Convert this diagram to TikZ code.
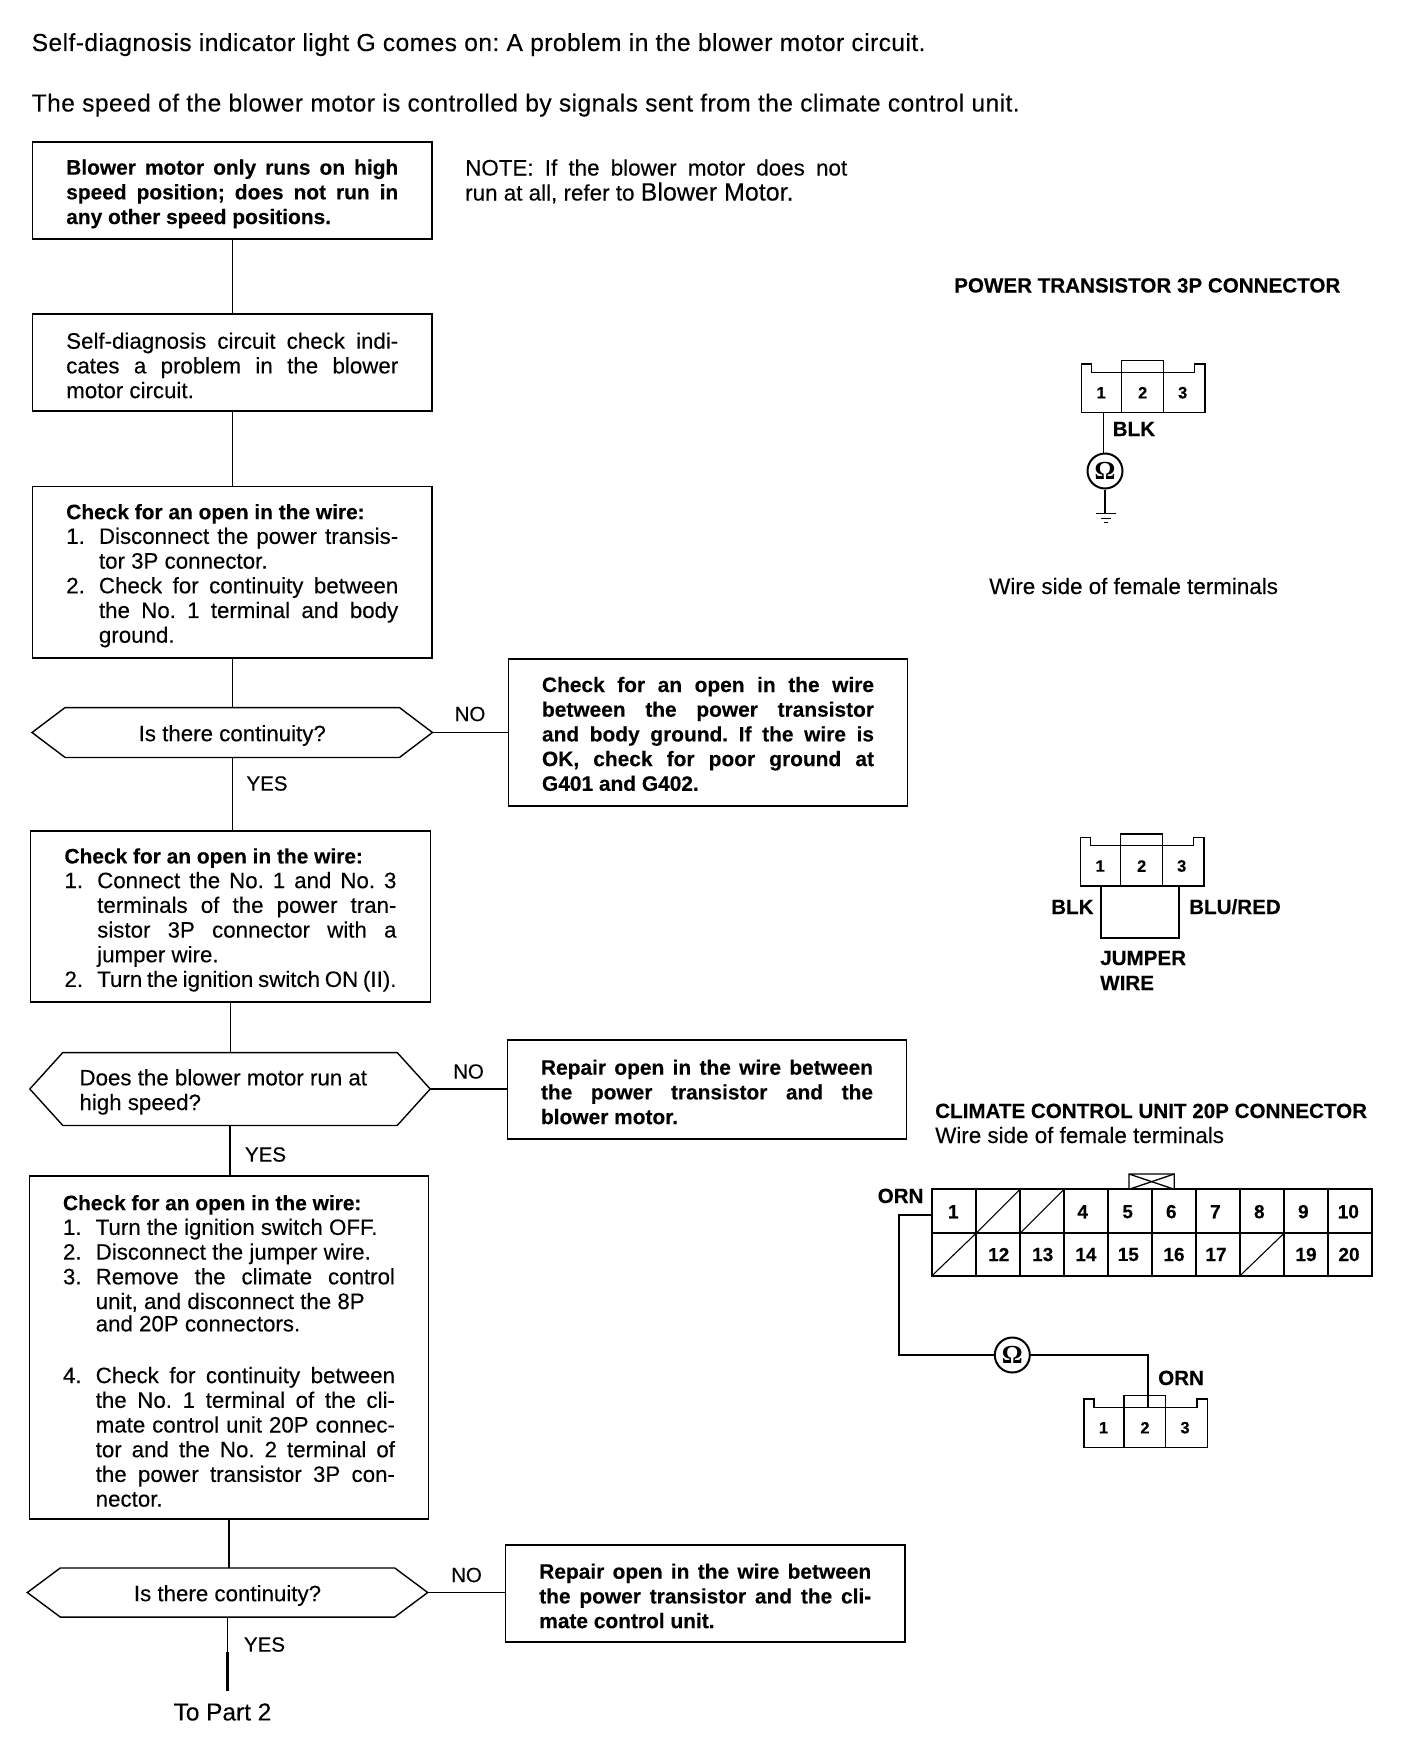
\documentclass[tikz,border=0pt]{standalone}
\usepackage{fontspec}
\setmainfont{Liberation Sans}[FakeBold=0.2]
\newfontfamily\omegafont{Liberation Serif Bold}
\AtBeginDocument{\frenchspacing}
\newlength\boxw
\setlength\boxw{332pt}
\newcommand\jline[1]{\makebox[\boxw][s]{#1}}
\newcommand\njline[2]{\makebox[\boxw][s]{\makebox[32.7pt][l]{#1}#2}}
\newcommand\cjline[1]{\makebox[\boxw][s]{\hspace{32.7pt}#1}}
\newcommand\npline[2]{\makebox[32.7pt][l]{#1}#2}
\newcommand\cpline[1]{\hspace*{32.7pt}#1}
\newcommand\hdline[1]{{\fontsize{20.9}{24.7}\selectfont\bfseries #1}}
\newcommand\hexa[1]{\draw[line width=1.4pt] (#1.west) -- ([xshift=33pt]#1.north west) -- ([xshift=-33pt]#1.north east) -- (#1.east) -- ([xshift=-33pt]#1.south east) -- ([xshift=33pt]#1.south west) -- cycle;}
\tikzset{
  x=1pt,y=-1pt,
  txt/.style={font=\fontsize{22.3}{24.7}\selectfont},
  txtb/.style={font=\fontsize{20.9}{24.7}\selectfont\bfseries},
  lbl/.style={inner sep=0pt,anchor=base west,font=\fontsize{22.4}{24.7}\selectfont},
  toplbl/.style={inner sep=0pt,anchor=base west,font=\fontsize{24.6}{26}\selectfont\addfontfeature{LetterSpace=1.7}},
  lblc/.style={inner sep=0pt,anchor=center,font=\fontsize{20.5}{24.7}\selectfont},
  blbl/.style={inner sep=0pt,anchor=base west,font=\fontsize{20.6}{24.7}\selectfont\bfseries},
  num/.style={inner sep=0pt,anchor=center,font=\fontsize{16.5}{20}\selectfont\bfseries},
  gnum/.style={inner sep=0pt,anchor=center,font=\fontsize{19}{20}\selectfont\bfseries},
  flowbox/.style={draw,line width=1.4pt,rectangle,text width=332pt,align=flush left,inner xsep=33.75pt,inner ysep=0pt,execute at begin node={\rule{0pt}{#1}}},
  flowbox/.default=22pt,
  deci/.style={rectangle,minimum width=400pt,inner ysep=0pt,inner xsep=0pt,execute at begin node={\rule{0pt}{22pt}}},
  flow/.style={line width=1.4pt},
  wire/.style={line width=1.7pt},
  ohm/.style={draw,circle,line width=2pt,minimum size=35pt,inner sep=0pt,font=\fontsize{26}{26}\omegafont},
  tpconn/.pic={
    \draw[line width=1.1pt] (0,0) -- (0,-48.7) -- (10,-48.7) -- (10,-40.5) -- (113,-40.5) -- (113,-48.7) -- (123.3,-48.7) -- (123.3,0) -- cycle;
    \draw[line width=1.4pt] (40,0) -- (40,-52) -- (81.6,-52) -- (81.6,0);
    \node[num] (-n1) at (19.5,-20) {1};
    \node[num] (-n2) at (61,-20) {2};
    \node[num] (-n3) at (101,-20) {3};
  }
}
\begin{document}
\begin{tikzpicture}
\useasboundingbox[fill=white] (0,0) rectangle (1408,1758);
% top lines
\node[toplbl] (t1) at (31.5,51) {Self-diagnosis indicator light G comes on: A problem in the blower motor circuit.};
\node[toplbl] (t2) at (31.5,111.5) {The speed of the blower motor is controlled by signals sent from the climate control unit.};
% flow boxes
\node[flowbox,txtb,minimum height=97pt] (b1) at (232.25,190.5) {\jline{Blower motor only runs on high}\\\jline{speed position; does not run in}\\any other speed positions.};
\node[flowbox,txt,minimum height=97pt] (b2) at (232.25,362.5) {\jline{Self-diagnosis circuit check indi-}\\\jline{cates a problem in the blower}\\motor circuit.};
\node[flowbox,txt,minimum height=171.5pt] (b3) at (232.25,572.25) {\hdline{Check for an open in the wire:}\\\njline{1.}{Disconnect the power transis-}\\\cpline{tor 3P connector.}\\\njline{2.}{Check for continuity between}\\\cjline{the No. 1 terminal and body}\\\cpline{ground.}};
\node[deci,txt,minimum height=49.5pt] (d1) at (232.25,732.5) {Is there continuity?};
\hexa{d1}
\node[flowbox=18pt,txtb,minimum height=147pt] (b4) at (708,732.5) {\jline{Check for an open in the wire}\\\jline{between the power transistor}\\\jline{and body ground. If the wire is}\\\jline{OK, check for poor ground at}\\G401 and G402.};
\node[flowbox,txt,minimum height=171pt] (b5) at (230.5,916.5) {\hdline{Check for an open in the wire:}\\\njline{1.}{Connect the No. 1 and No. 3}\\\cjline{terminals of the power tran-}\\\cjline{sistor 3P connector with a}\\\cpline{jumper wire.}\\\njline{2.}{Turn the ignition switch ON (II).}};
\node[deci,txt,minimum height=72.5pt,text width=301pt,align=flush left] (d2) at (230,1089) {Does the blower motor run at\\high speed?};
\hexa{d2}
\node[flowbox=20pt,txtb,minimum height=99pt] (b6) at (707,1089.5) {\jline{Repair open in the wire between}\\\jline{the power transistor and the}\\blower motor.};
\node[flowbox,txt,minimum height=343pt] (b7) at (229,1347.5) {\hdline{Check for an open in the wire:}\\\npline{1.}{Turn the ignition switch OFF.}\\\npline{2.}{Disconnect the jumper wire.}\\\njline{3.}{Remove the climate control}\\\cpline{unit, and disconnect the 8P}\\[-2.3pt]\cpline{and 20P connectors.}\\[27pt]\njline{4.}{Check for continuity between}\\\cjline{the No. 1 terminal of the cli-}\\\cjline{mate control unit 20P connec-}\\\cjline{tor and the No. 2 terminal of}\\\cjline{the power transistor 3P con-}\\\cpline{nector.}};
\node[deci,txt,minimum height=48.7pt] (d3) at (227.5,1592.5) {Is there continuity?};
\hexa{d3}
\node[flowbox=20pt,txtb,minimum height=97pt] (b8) at (705.25,1593.5) {\jline{Repair open in the wire between}\\\jline{the power transistor and the cli-}\\mate control unit.};
\node[inner sep=0pt,minimum height=42pt,font=\fontsize{24.4}{25}\selectfont] (part) at (222.5,1712) {To Part 2};
% connectors
\draw[flow] (b1.south) -- (b1.south |- b2.north);
\draw[flow] (b2.south) -- (b2.south |- b3.north);
\draw[flow] (b3.south) -- (b3.south |- d1.north);
\draw[flow] (d1.south) -- (d1.south |- b5.north);
\draw[flow] (b5.south) -- (b5.south |- d2.north);
\draw[flow] (d2.south) -- (d2.south |- b7.north);
\draw[flow] (b7.south) -- (b7.south |- d3.north);
\coordinate (thick) at (227.5,1652);
\draw[flow] (d3.south) -- (thick);
\draw[line width=2.2pt] (thick) -- (thick |- part.north);
\draw[flow] (d1.east) -- (b4.west);
\draw[flow] (d2.east) -- (d2.east -| b6.west);
\draw[flow] (d3.east) -- (d3.east -| b8.west);
% yes/no
\node[lblc] (no1) at (470,714) {NO};
\node[lblc] (yes1) at (267,783.5) {YES};
\node[lblc] (no2) at (468.5,1071.5) {NO};
\node[lblc] (yes2) at (265.5,1154.5) {YES};
\node[lblc] (no3) at (466.5,1575) {NO};
\node[lblc] (yes3) at (264.5,1644.5) {YES};
% note
\node[lbl] (note1) at (465,175.5) {\makebox[382pt][s]{NOTE: If the blower motor does not}};
\node[lbl] (note2) at (465,200.5) {run at all, refer to {\fontsize{25}{24.7}\selectfont Blower Motor.}};
% power transistor connector
\node[blbl] (ptitle) at (954,292.5) {POWER TRANSISTOR 3P CONNECTOR};
\pic (c1) at (1081.7,412.7) {tpconn};
\coordinate (c1w) at (1103.5,412.7);
\node[ohm] (o1) at (1105,471) {Ω};
\coordinate (g1) at (1105,513.3);
\draw[wire] (c1w) -- (c1w |- o1.north);
\draw[wire] (o1.south) -- (g1);
\draw[line width=1.4pt] (1096,513.3) -- (1116,513.3);
\draw[line width=1pt] (1101,518) -- (1111,518);
\draw[line width=1pt] (1104,522.7) -- (1108,522.7);
\node[blbl] (blk1) at (1112.5,436) {BLK};
\node[lbl] (ws1) at (989,594) {Wire side of female terminals};
% jumper
\pic (c2) at (1080.7,886) {tpconn};
\draw[wire] (1100.7,886) -- (1100.7,938.3) -- (1179.3,938.3) -- (1179.3,886);
\node[blbl] (blk2) at (1051,914) {BLK};
\node[blbl] (blured) at (1189,914) {BLU/RED};
\node[blbl] (jump) at (1100,965) {JUMPER};
\node[blbl] (wirel) at (1100,990) {WIRE};
% climate connector
\node[blbl] (ctitle) at (935,1118) {CLIMATE CONTROL UNIT 20P CONNECTOR};
\node[lbl] (ws2) at (935,1143) {Wire side of female terminals};
\draw[line width=1.7pt] (932,1189.3) rectangle (1371.7,1275.7);
\draw[line width=1.7pt] (932,1233.3) -- (1371.7,1233.3);
\foreach \i in {1,...,9}{\draw[line width=1.6pt] (932+44*\i,1189.3) -- (932+44*\i,1275.7);}
\draw[line width=1.1pt] (976,1233.3) -- (1020,1189.3);
\draw[line width=1.1pt] (1020,1233.3) -- (1064,1189.3);
\draw[line width=1.1pt] (932,1275.7) -- (976,1233.3);
\draw[line width=1.1pt] (1240,1275.7) -- (1284,1233.3);
\draw[line width=1.3pt] (1129,1189.3) -- (1129,1174) -- (1174.3,1174) -- (1174.3,1189.3) -- (1129,1174);
\draw[line width=1.3pt] (1129,1189.3) -- (1174.3,1174);
\foreach \t/\xx in {1/953.3,4/1082.7,5/1127.7,6/1171.3,7/1215.3,8/1259.3,9/1303.3,10/1348.3}{\node[gnum] (r1n\t) at (\xx,1211.7) {\t};}
\foreach \t/\xx in {12/998.7,13/1042.7,14/1086,15/1128.3,16/1174,17/1216,19/1306,20/1349}{\node[gnum] (r2n\t) at (\xx,1254.5) {\t};}
\coordinate (cell1) at (932,1215);
\node[ohm] (o2) at (1012.3,1355) {Ω};
\coordinate (c3w) at (1148.3,1407.3);
\draw[wire] (cell1) -- (899.3,1215) -- (899.3,1355) -- (o2.west);
\draw[wire] (o2.east) -- (c3w |- o2.east) -- (c3w);
\pic (c3) at (1084,1447.7) {tpconn};
\node[blbl] (orn1) at (877.5,1203) {ORN};
\node[blbl] (orn2) at (1158,1385) {ORN};
\end{tikzpicture}
\end{document}
